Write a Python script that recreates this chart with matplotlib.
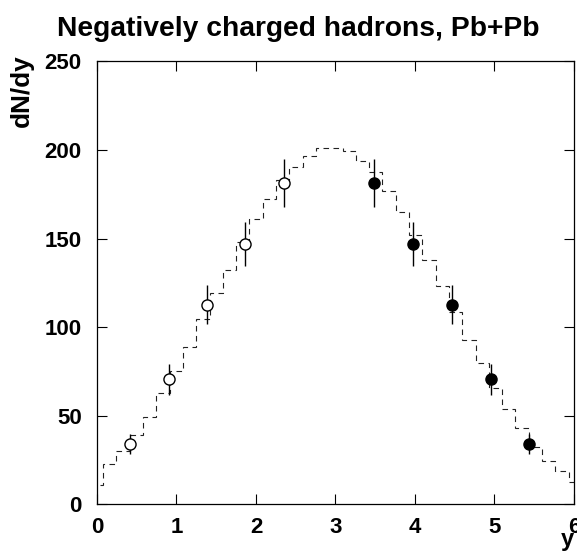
import matplotlib
matplotlib.use("Agg")
import matplotlib.pyplot as plt

# measured dN/dy of negative hadrons (open: measured, filled: reflected)
y_open = [0.41, 0.90, 1.38, 1.86, 2.35]
dndy_open = [34.0, 70.5, 112.7, 147.1, 181.3]
err_open = [5.5, 8.6, 11.1, 12.5, 13.4]

y_filled = [3.49, 3.98, 4.46, 4.95, 5.44]
dndy_filled = [181.3, 146.9, 112.7, 70.5, 34.0]
err_filled = [13.4, 12.5, 11.1, 8.6, 5.5]

# model histogram (dashed)
hist_edges = [-0.089, 0.078, 0.245, 0.413, 0.580, 0.747, 0.915, 1.082, 1.249,
              1.416, 1.584, 1.751, 1.918, 2.086, 2.253, 2.420, 2.588, 2.755,
              2.922, 3.089, 3.257, 3.424, 3.591, 3.759, 3.926, 4.093, 4.261,
              4.428, 4.595, 4.762, 4.930, 5.097, 5.264, 5.431, 5.599, 5.766,
              5.933, 6.100]
hist_vals = [11.0, 23.0, 30.2, 39.2, 49.4, 62.6, 75.3, 88.8, 104.4, 119.3,
             132.5, 148.0, 161.2, 172.5, 183.0, 190.7, 196.9, 201.2, 201.2,
             199.5, 193.7, 187.5, 176.6, 165.0, 151.8, 137.7, 123.2, 108.6,
             93.0, 79.5, 65.7, 53.7, 42.8, 32.5, 24.6, 18.8, 12.7]

plt.rcParams['font.family'] = 'Liberation Sans'
plt.rcParams['font.weight'] = 'bold'

fig = plt.figure(figsize=(5.77, 5.53), dpi=100)
ax = fig.add_axes([0.1681, 0.0881, 0.8267, 0.8007])

ax.stairs(hist_vals, hist_edges, baseline=None, color='#222222',
          linewidth=0.8, linestyle=(0, (5, 4)))

ax.errorbar(y_open, dndy_open, yerr=err_open, fmt='o', ms=8,
            mfc='white', mec='black', mew=1.0, ecolor='black',
            elinewidth=1.0, capsize=0, zorder=3)
ax.errorbar(y_filled, dndy_filled, yerr=err_filled, fmt='o', ms=8,
            mfc='black', mec='black', mew=1.0, ecolor='black',
            elinewidth=1.0, capsize=0, zorder=3)

ax.set_xlim(0, 6)
ax.set_ylim(0, 250)
ax.set_xticks([0, 1, 2, 3, 4, 5, 6])
ax.set_yticks([0, 50, 100, 150, 200, 250])
ax.tick_params(direction='in', length=7.5, width=0.8, top=True, right=True,
               labelsize=16)
ax.tick_params(axis='x', pad=9)
ax.tick_params(axis='y', pad=11)
for sp in ax.spines.values():
    sp.set_linewidth(0.9)

fig.text(0.517, 0.948, 'Negatively charged hadrons, Pb+Pb', ha='center',
         va='center', fontsize=20.3, fontweight='bold')
fig.text(0.038, 0.901, 'dN/dy', rotation=90, ha='center', va='top',
         fontsize=18.8, fontweight='bold')
fig.text(0.995, 0.003, 'y', ha='right', va='bottom', fontsize=17,
         fontweight='bold')

fig.savefig('out.png', dpi=100)
